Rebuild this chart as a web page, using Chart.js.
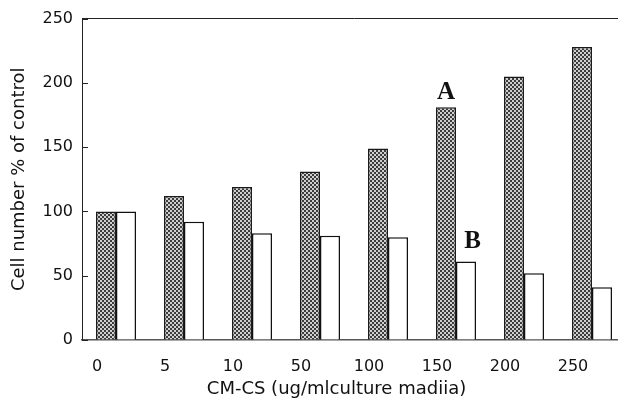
<!DOCTYPE html>
<html><head><meta charset="utf-8">
<script src="https://cdn.jsdelivr.net/npm/chart.js@4.4.0/dist/chart.umd.min.js"></script>
<style>html,body{margin:0;padding:0;background:#fff;overflow:hidden;width:618px;height:401px}
#wrap{position:absolute;left:0;top:0;width:630px;height:401px}</style>
</head><body><div id="wrap"><canvas id="c" width="630" height="401"></canvas></div>
<script>
const categories = ['0','5','10','50','100','150','200','250'];
const seriesA = [100,112,119,131,149,181,205,228];
const seriesB = [100,92,83,81,80,61,52,41];
const yTicks = [0,50,100,150,200,250];
const xTitle = 'CM-CS (ug/mlculture madiia)';
const yTitle = 'Cell number % of control';
const markerA = 'A', markerB = 'B';

const canvas = document.getElementById('c');
function makePattern(){
  const p = document.createElement('canvas'); p.width = 4; p.height = 4;
  const g = p.getContext('2d');
  g.fillStyle = '#3c3c3c'; g.fillRect(0,0,4,4);
  g.fillStyle = '#cfcfcf'; g.fillRect(0,0,2,2); g.fillRect(2,2,2,2);
  return canvas.getContext('2d').createPattern(p,'repeat');
}
const FONT = 'DejaVu Sans';

const extras = {
  id:'extras',
  afterDraw(chart){
    const ctx = chart.ctx, ya = chart.scales.y, xa = chart.scales.x;
    ctx.save();
    ctx.strokeStyle = '#222'; ctx.lineWidth = 1;
    yTicks.forEach(v=>{
      const py = Math.round(ya.getPixelForValue(v)) + 0.5;
      ctx.beginPath(); ctx.moveTo(xa.left, py); ctx.lineTo(xa.left + 6, py); ctx.stroke();
    });
    ctx.font = '18px "' + FONT + '"'; ctx.fillStyle = '#111';
    ctx.textAlign = 'center'; ctx.textBaseline = 'middle';
    ctx.fillText(xTitle, chart.chartArea.left + 254.5, xa.bottom - 12);
    const a = chart.getDatasetMeta(0).data[5], b = chart.getDatasetMeta(1).data[5];
    ctx.font = 'bold 25px "Liberation Serif"'; ctx.textBaseline = 'alphabetic';
    ctx.fillText(markerA, a.x, a.y - 8);
    ctx.fillText(markerB, b.x + 6.5, b.y - 14);
    ctx.restore();
  }
};

new Chart(canvas, {
  type:'bar',
  data:{labels:categories, datasets:[
    {data:seriesA, backgroundColor:makePattern(), borderColor:'#1a1a1a', borderWidth:1.5},
    {data:seriesB, backgroundColor:'#ffffff', borderColor:'#111', borderWidth:1.5}
  ]},
  options:{
    responsive:false, animation:false, devicePixelRatio:1,
    categoryPercentage:40/68, barPercentage:1,
    layout:{padding:{top:17,right:4,left:0,bottom:0}},
    plugins:{legend:{display:false}, tooltip:{enabled:false}},
    scales:{
      x:{offset:true, grid:{display:false, drawTicks:false},
        border:{display:true, color:'#555', width:1.5},
        ticks:{font:{family:FONT,size:16}, color:'#111', padding:17, labelOffset:-19, maxRotation:0, autoSkip:false},
        afterFit:s=>{s.height = 61;}},
      y:{min:0, max:250,
        ticks:{stepSize:50, font:{family:FONT,size:16}, color:'#111', padding:9},
        grid:{drawTicks:false, lineWidth:1, color:c=> (c.tick && c.tick.value===250) ? '#222' : 'rgba(0,0,0,0)'},
        border:{display:true, color:'#222', width:1},
        title:{display:true, text:yTitle, font:{family:FONT,size:18}, color:'#111', padding:{top:9,bottom:0}},
        afterFit:s=>{s.width = 82;}}
    }
  },
  plugins:[extras]
});
</script></body></html>
